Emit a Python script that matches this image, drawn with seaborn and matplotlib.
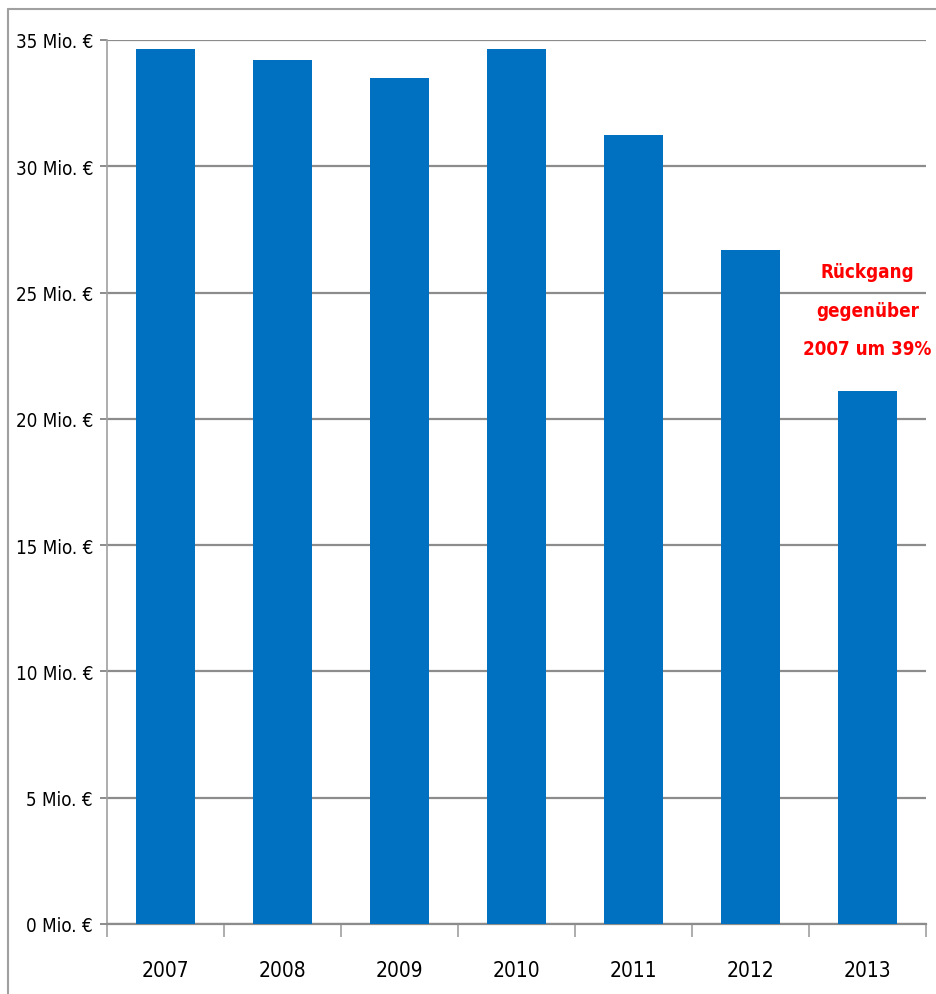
import matplotlib
matplotlib.use("Agg")
import matplotlib.pyplot as plt
import seaborn as sns
import pandas as pd
import numpy as np
from matplotlib.lines import Line2D

years = ["2007", "2008", "2009", "2010", "2011", "2012", "2013"]
values = [34.64, 34.2, 33.49, 34.64, 31.24, 26.68, 21.1]
y_ticks = [0, 5, 10, 15, 20, 25, 30, 35]
y_labels = [f"{v} Mio. €" for v in y_ticks]
note = "Rückgang\ngegenüber\n2007 um 39%"

sns.set_theme(style="white")
plt.rcParams['font.family'] = ['DejaVu Sans']
plt.rcParams['font.stretch'] = 'condensed'

df = pd.DataFrame({"year": years, "value": values})

fig = plt.figure(figsize=(9.37, 9.95), dpi=100)
ax = fig.add_axes([107/937, 1-925/995, (926-107)/937, (925-41)/995])

sns.barplot(data=df, x="year", y="value", color="#0070C0", width=0.5,
            saturation=1, ax=ax, zorder=3, linewidth=0)

ax.set_ylim(0, 35)
ax.set_xlim(-0.5, 6.5)
ax.set_yticks(y_ticks)
ax.set_yticklabels(y_labels, fontsize=13.5, color="black", fontstretch="condensed")
ax.set_xticks(range(len(years)))
ax.set_xticklabels(years, fontsize=15, color="black", fontstretch="condensed")
ax.set_xlabel("")
ax.set_ylabel("")

ax.yaxis.grid(True, color="#8c8c8c", linewidth=1.6, zorder=0)
ax.set_axisbelow(True)
for s in ["top", "right"]:
    ax.spines[s].set_visible(False)
ax.spines["left"].set_color("#a0a0a0")
ax.spines["left"].set_linewidth(1.2)
ax.spines["bottom"].set_color("#8c8c8c")
ax.spines["bottom"].set_linewidth(1.6)

ax.tick_params(axis="y", length=5, width=1.4, color="#8c8c8c", pad=5, left=True)
ax.tick_params(axis="x", which="major", length=0, pad=26)
ax.set_xticks(np.arange(-0.5, 7, 1), minor=True)
ax.tick_params(axis="x", which="minor", length=9, width=1.2, color="#a0a0a0", bottom=True)

ax.text(6, 24.3, note, ha="center", va="center", color="#FF0000",
        fontsize=13.5, fontweight="bold", fontstretch="condensed", linespacing=2.3)

# outer frame lines (top and left)
fig.add_artist(Line2D([8/937, 1], [1-10/995, 1-10/995], color="#a0a0a0", linewidth=1.5,
                      transform=fig.transFigure))
fig.add_artist(Line2D([8/937, 8/937], [0, 1-10/995], color="#a0a0a0", linewidth=1.5,
                      transform=fig.transFigure))

fig.savefig("out.png", dpi=100)
